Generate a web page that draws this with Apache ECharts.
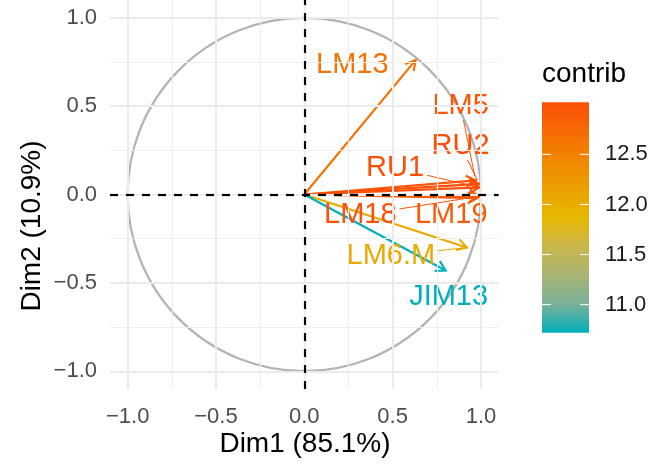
<!DOCTYPE html>
<html><head><meta charset="utf-8">
<script src="https://cdn.jsdelivr.net/npm/echarts@6/dist/echarts.min.js"></script>
<style>html,body{margin:0;padding:0;background:#fff}#c{width:672px;height:464px}</style>
</head><body><div id="c"></div>
<script>
// ---- data ----
const variables = ['LM13', 'LM5', 'RU2', 'RU1', 'LM18', 'LM19', 'LM6.M', 'JIM13'];
const dim1 = [0.63, 0.97, 0.99, 0.99, 0.99, 0.98, 0.92, 0.80];
const dim2 = [0.76, 0.08, 0.06, 0.04, -0.01, -0.02, -0.30, -0.43];
const contrib = [12.65, 12.95, 13.02, 13.0, 12.98, 12.9, 12.05, 10.72];
const axisTicks = [-1, -0.5, 0, 0.5, 1];
const minorTicks = [-0.75, -0.25, 0.25, 0.75];
const legendTicks = [11.0, 11.5, 12.0, 12.5];
const xTitle = 'Dim1 (85.1%)';
const yTitle = 'Dim2 (10.9%)';
const legendTitle = 'contrib';
// ---- layout (repelled label positions in data units) ----
const labelPos = [[0.272, 0.735], [0.885, 0.50], [0.885, 0.275], [0.514, 0.151], [0.317, -0.117], [0.832, -0.117], [0.49, -0.348], [0.817, -0.577]];
const labelSegment = [0, 1, 1, 1, 1, 0, 1, 0];

// gradient #00AFBB -> #E7B800 -> #FC4E07 (Lab-interpolated stops, evenly spaced)
const gradientCols = ['#00AFBB', '#7BB198', '#A8B474', '#CAB64D', '#E7B800', '#ECA000', '#F18700', '#F76B04', '#FC4E07'];
const FONT = '"Liberation Sans", Arial, Helvetica, sans-serif';
const cMin = Math.min.apply(null, contrib), cMax = Math.max.apply(null, contrib);

const mctx = document.createElement('canvas').getContext('2d');
function textW(t, size) { mctx.font = size + 'px ' + FONT; return mctx.measureText(t).width; }
const fmt = v => (v < 0 ? '\u2212' : '') + Math.abs(v).toFixed(1);

const arrowData = variables.map((n, i) => ({ name: n, value: [dim1[i], dim2[i], contrib[i]] }));
const labelData = variables.map((n, i) => ({ name: n, value: [labelPos[i][0], labelPos[i][1], contrib[i], dim1[i], dim2[i], labelSegment[i]] }));

const chart = echarts.init(document.getElementById('c'), null, { renderer: 'canvas' });

// legend colorbar geometry
const LB = { x: 542, y: 102.3, w: 47, h: 230.4 };
const lY = v => LB.y + (cMax - v) / (cMax - cMin) * LB.h;
const n = gradientCols.length;
const legendEls = [
  { type: 'text', left: 542, top: 60, style: { text: legendTitle, fontSize: 28, fontFamily: FONT, fill: '#000' } },
  { type: 'rect', shape: { x: LB.x, y: LB.y, width: LB.w, height: LB.h },
    style: { fill: new echarts.graphic.LinearGradient(0, 1, 0, 0,
      gradientCols.map((c, i) => ({ offset: i / (n - 1), color: c }))) } }
];
legendTicks.forEach(v => {
  const y = lY(v);
  legendEls.push({ type: 'line', shape: { x1: LB.x, y1: y, x2: LB.x + 9, y2: y }, style: { stroke: '#fff', lineWidth: 1 } });
  legendEls.push({ type: 'line', shape: { x1: LB.x + LB.w - 9, y1: y, x2: LB.x + LB.w, y2: y }, style: { stroke: '#fff', lineWidth: 1 } });
  legendEls.push({ type: 'text', x: 605, y: y, style: { text: v.toFixed(1), fontSize: 22, fontFamily: FONT, fill: '#1A1A1A', verticalAlign: 'middle', align: 'left' } });
});
legendEls.push({ type: 'text', x: 305, y: 444, style: { text: xTitle, fontSize: 28, fontFamily: FONT, fill: '#000', align: 'center', verticalAlign: 'middle' } });
legendEls.push({ type: 'text', x: 32, y: 226, rotation: Math.PI / 2, style: { text: yTitle, fontSize: 28, fontFamily: FONT, fill: '#000', align: 'center', verticalAlign: 'middle' } });

function axisCfg(margin) {
  return {
    type: 'value', min: -1.1, max: 1.1,
    splitLine: { show: false }, axisLine: { show: false },
    axisTick: { show: true, customValues: axisTicks, length: 7, lineStyle: { color: '#333333', width: 2 } },
    axisLabel: { customValues: axisTicks, formatter: fmt, color: '#4D4D4D', fontSize: 22, fontFamily: FONT, margin: margin }
  };
}

const gridLines = [];
axisTicks.forEach(v => { gridLines.push({ xAxis: v, lineStyle: { color: '#EBEBEB', width: 2, type: 'solid' } }); gridLines.push({ yAxis: v, lineStyle: { color: '#EBEBEB', width: 2, type: 'solid' } }); });
minorTicks.forEach(v => { gridLines.push({ xAxis: v, lineStyle: { color: '#EFEFEF', width: 1.1, type: 'solid' } }); gridLines.push({ yAxis: v, lineStyle: { color: '#EFEFEF', width: 1.1, type: 'solid' } }); });

const option = {
  animation: false,
  backgroundColor: '#fff',
  grid: { left: 110, top: 0, width: 388.6, height: 389, containLabel: false, outerBoundsMode: 'none' },
  xAxis: axisCfg(17),
  yAxis: axisCfg(13),
  visualMap: { show: false, type: 'continuous', min: cMin, max: cMax, dimension: 2, seriesIndex: [2, 3],
    inRange: { color: gradientCols } },
  graphic: legendEls,
  series: [
    { type: 'line', data: [], z: 0, silent: true,
      markLine: { silent: true, symbol: ['none', 'none'], label: { show: false }, animation: false, data: gridLines } },
    { type: 'custom', z: 1, silent: true, data: [[0, 0]],
      renderItem: (params, api) => {
        const c = api.coord([0, 0]); const r = api.size([1, 1])[0];
        return { type: 'circle', shape: { cx: c[0], cy: c[1], r: r }, style: { fill: 'none', stroke: '#B3B3B3', lineWidth: 2.2 } };
      } },
    { type: 'custom', z: 2, silent: true, data: arrowData, encode: { x: 0, y: 1 },
      renderItem: (params, api) => {
        const p0 = api.coord([0, 0]); const p1 = api.coord([api.value(0), api.value(1)]);
        const col = api.visual('color');
        const dx = p0[0] - p1[0], dy = p0[1] - p1[1]; const len = Math.hypot(dx, dy);
        const ux = dx / len, uy = dy / len, L = 11, a = Math.PI / 6;
        const w1 = [p1[0] + L * (ux * Math.cos(a) - uy * Math.sin(a)), p1[1] + L * (ux * Math.sin(a) + uy * Math.cos(a))];
        const w2 = [p1[0] + L * (ux * Math.cos(-a) - uy * Math.sin(-a)), p1[1] + L * (ux * Math.sin(-a) + uy * Math.cos(-a))];
        return { type: 'group', children: [
          { type: 'line', shape: { x1: p0[0], y1: p0[1], x2: p1[0], y2: p1[1] }, style: { stroke: col, lineWidth: 2.2 } },
          { type: 'polyline', shape: { points: [w1, p1, w2] }, style: { stroke: col, fill: 'none', lineWidth: 2.2, lineJoin: 'miter' } }
        ] };
      } },
    { type: 'custom', z: 3, silent: true, data: labelData, encode: { x: 0, y: 1 },
      renderItem: (params, api) => {
        const name = variables[params.dataIndex];
        const c = api.coord([api.value(0), api.value(1)]);
        const tip = api.coord([api.value(3), api.value(4)]);
        const col = api.visual('color');
        const children = [{ type: 'text', x: c[0], y: c[1], style: { text: name, fill: col, fontSize: 29, fontFamily: FONT, align: 'center', verticalAlign: 'middle' } }];
        if (api.value(5)) {
          const hw = textW(name, 29) / 2 + 3, hh = 14;
          const dx = tip[0] - c[0], dy = tip[1] - c[1]; const len = Math.hypot(dx, dy);
          const t = Math.min(dx !== 0 ? hw / Math.abs(dx) : 1e9, dy !== 0 ? hh / Math.abs(dy) : 1e9);
          const s = [c[0] + dx * t, c[1] + dy * t];
          const e = [tip[0] - dx / len * 4, tip[1] - dy / len * 4];
          children.push({ type: 'line', shape: { x1: s[0], y1: s[1], x2: e[0], y2: e[1] }, style: { stroke: col, lineWidth: 1 } });
        }
        return { type: 'group', children: children };
      } },
    { type: 'line', data: [], z: 4, silent: true,
      markLine: { silent: true, symbol: ['none', 'none'], label: { show: false }, animation: false,
        lineStyle: { color: '#000', width: 2.2, type: [8, 8] },
        data: [{ xAxis: 0 }, { yAxis: 0 }] } }
  ]
};
chart.setOption(option);
</script>
</body></html>
